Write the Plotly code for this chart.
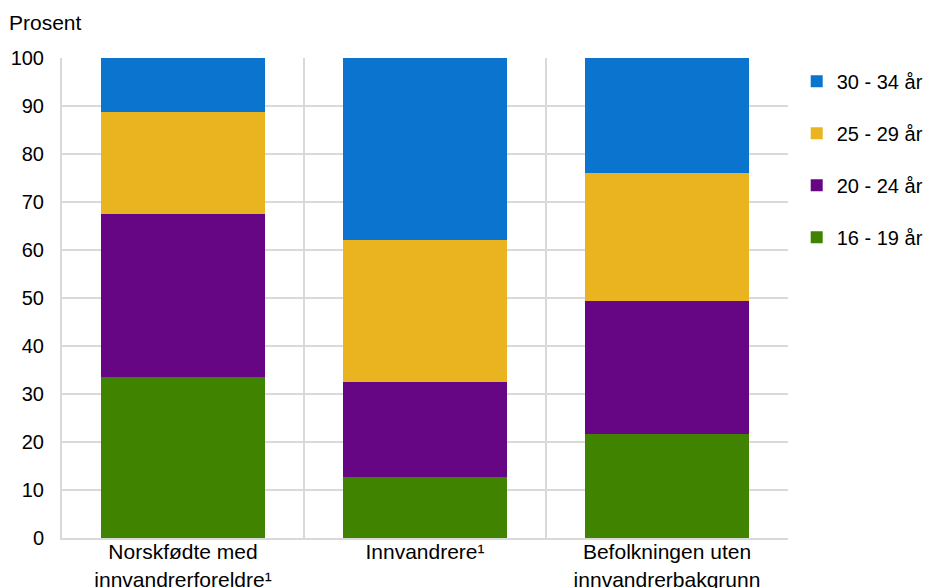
import plotly.graph_objects as go

categories = ["Norskfødte med<br>innvandrerforeldre¹", "Innvandrere¹", "Befolkningen uten<br>innvandrerbakgrunn"]
age_16_19 = [33.6, 12.7, 21.6]
age_20_24 = [34.0, 19.7, 27.7]
age_25_29 = [21.2, 29.7, 26.7]
age_30_34 = [11.2, 37.9, 24.0]

series = [
    ("16 - 19 år", age_16_19, "#3f8300", 4),
    ("20 - 24 år", age_20_24, "#670685", 3),
    ("25 - 29 år", age_25_29, "#eab320", 2),
    ("30 - 34 år", age_30_34, "#0a74cf", 1),
]

fig = go.Figure()
for name, vals, color, rank in series:
    fig.add_trace(go.Bar(x=categories, y=vals, name=name, legendgroup=name,
                         legendrank=rank,
                         marker=dict(color=color, line=dict(width=0)),
                         hoverinfo="x+y+name"))

font = dict(family="Liberation Sans, Arial, sans-serif", size=20, color="#000000")
xfont = dict(family="Liberation Sans, Arial, sans-serif", size=21, color="#000000")
# page body has an 8px margin, so the figure is placed at (8, 8)
fig.update_layout(
    width=928, height=580,
    barmode="stack", bargap=0.326,
    plot_bgcolor="white", paper_bgcolor="white",
    font=font,
    margin=dict(l=54, r=148, t=50, b=50, autoexpand=False),
    legend=dict(x=1.012, y=0.992, xanchor="left", yanchor="top",
                traceorder="grouped", tracegroupgap=23,
                font=dict(size=20), itemwidth=30),
    xaxis=dict(type="category", showgrid=True, gridcolor="#d9d9d9", gridwidth=2,
               tickson="boundaries", ticks="", showline=True, linecolor="#d9d9d9",
               linewidth=2, tickfont=xfont, automargin=False, ticklabelstandoff=-6),
    yaxis=dict(range=[0, 100], dtick=10, showgrid=True, gridcolor="#d9d9d9", gridwidth=2,
               showline=True, linecolor="#d9d9d9", linewidth=2, zeroline=False,
               ticks="", ticklabelstandoff=12, tickfont=font, automargin=False),
    annotations=[dict(text="Prosent", xref="paper", yref="paper",
                      x=-0.0758, y=1.075, xanchor="left", yanchor="middle",
                      showarrow=False, font=dict(family=font["family"], size=21, color="#000000"))],
)

fig.write_html("out.html")
